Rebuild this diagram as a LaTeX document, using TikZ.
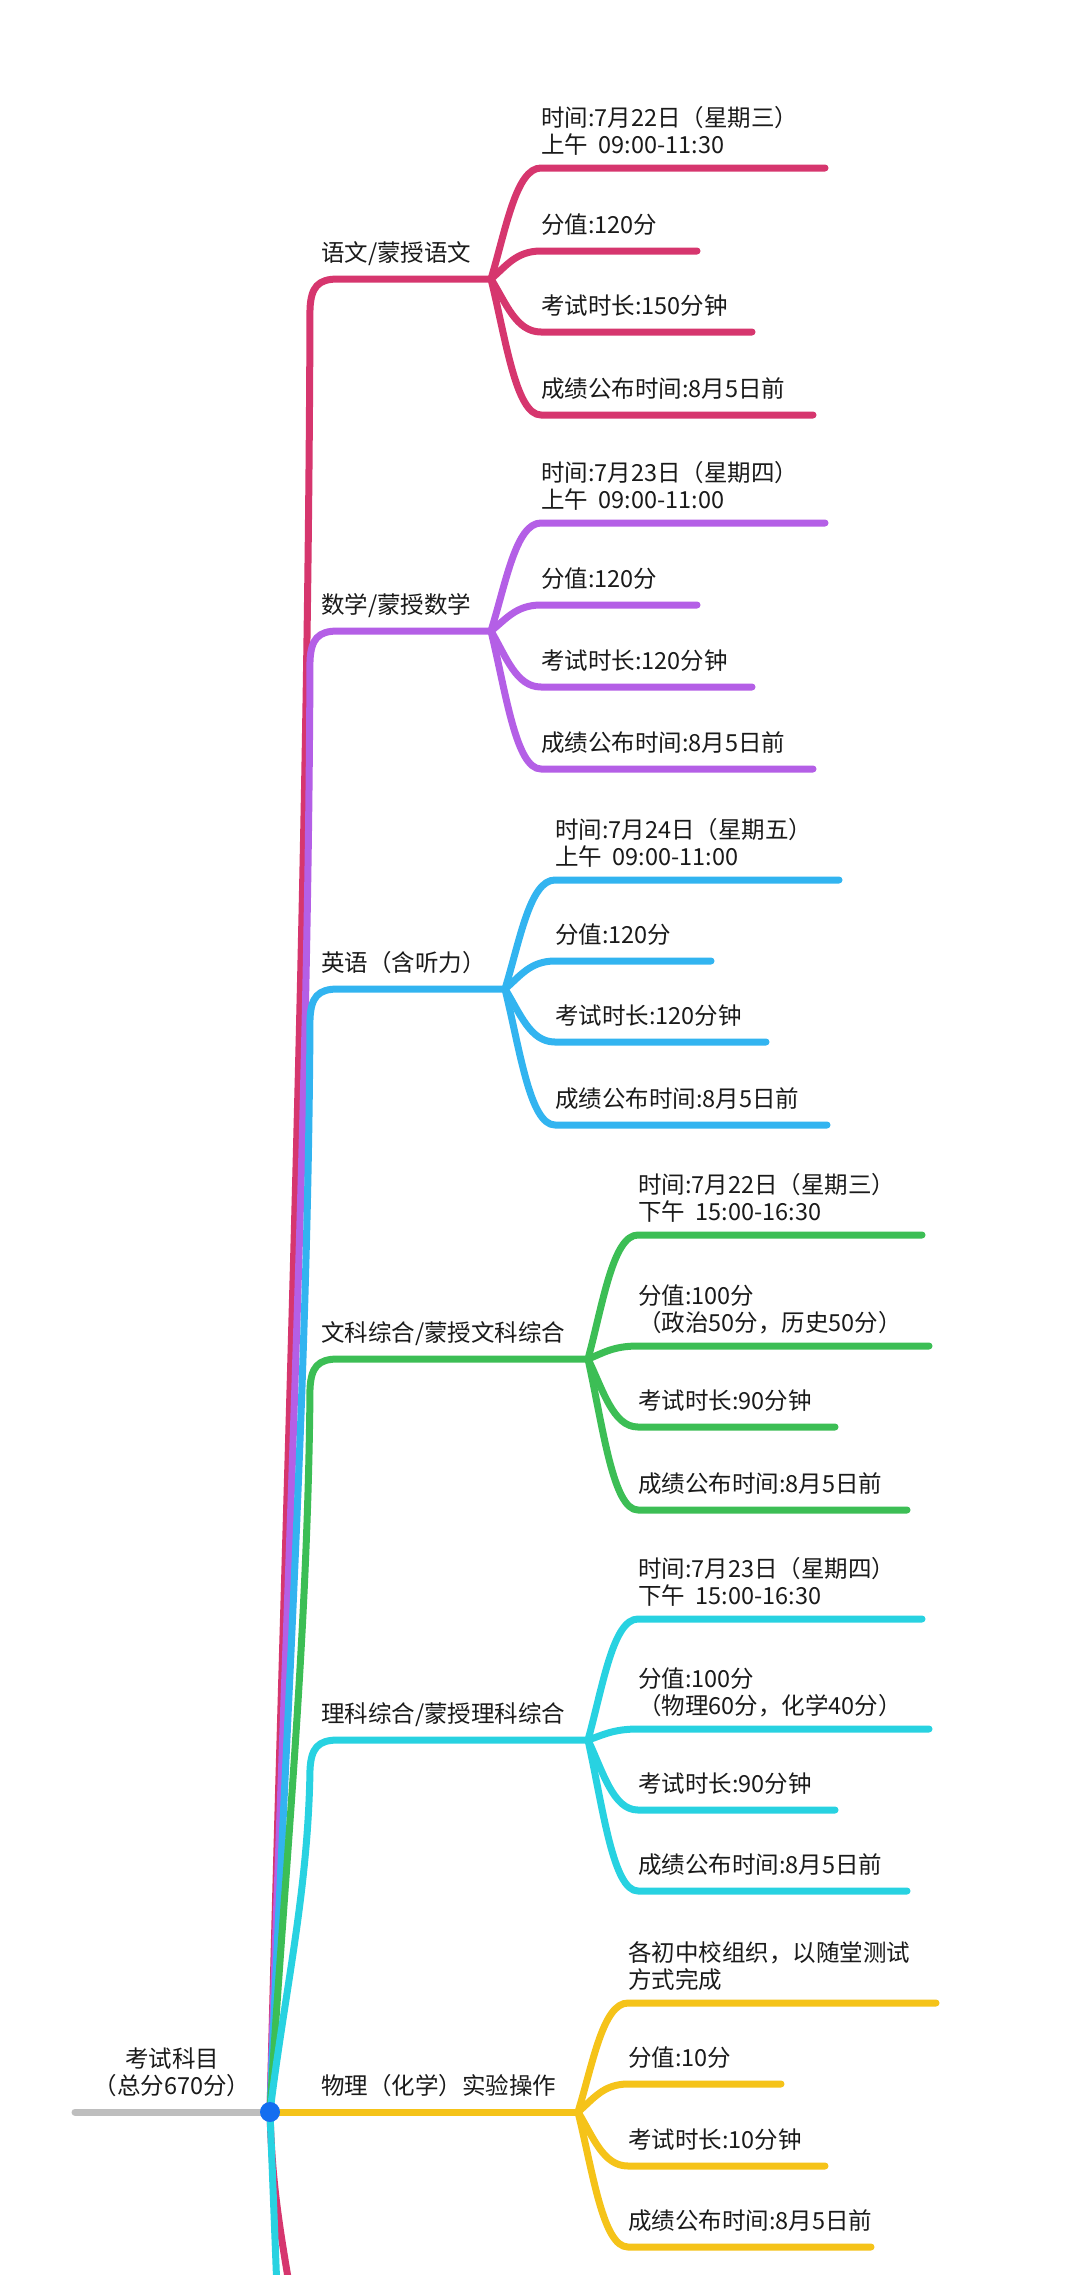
\documentclass[tikz,border=0pt]{standalone}
\usepackage{fontspec}
\setmainfont{Noto Sans CJK SC}
\usetikzlibrary{calc}
\definecolor{cYW}{HTML}{D6366E}
\definecolor{cSX}{HTML}{B45FE6}
\definecolor{cYY}{HTML}{32B4F0}
\definecolor{cWK}{HTML}{3CBE55}
\definecolor{cLK}{HTML}{28D2E1}
\definecolor{cWL}{HTML}{F5C319}
\definecolor{cGR}{HTML}{BEBEBE}
\definecolor{cDOT}{HTML}{146EF0}
\definecolor{txt}{HTML}{1A1A1A}
\tikzset{
  leaf/.style={inner sep=0pt, align=left, text depth=4pt, font=\fontsize{23.5}{27.5}\selectfont, text=txt},
  br/.style={line width=7pt, line cap=round, line join=round},
}
% child: #1 colour, #2 name, #3 fork name, #4 fx, #5 fy, #6 cy, #7 end x, #8 text, #9 extra shift
\newcommand\mmkid[9]{%
  \coordinate (#2-s) at ({#4+50},#6);
  \coordinate (#2-e) at (#7,#6);
  \node[leaf, anchor=south west] (#2) at ({#4+50},{#6-13+#9}) {#8};
  \draw[br,#1] (#3) .. controls ({#4+15},{#5+0.45*(#6-#5)}) and ({#4+25},#6) .. (#2-s) -- (#2-e);
}
% level one: #1 colour, #2 name, #3 Y, #4 fork x, #5 text
\newcommand\mmlvl[5]{%
  \coordinate (#2-k) at (310,{#3+30});
  \coordinate (#2-f) at (#4,#3);
  \node[leaf, anchor=south west] (#2) at (321,{#3-13}) {#5};
  \draw[br,#1] (root) .. controls (285,{2112-0.33*(2112-#3)}) and (308,{#3+30+0.33*(2112-#3)}) .. (#2-k)
     .. controls (311,{#3+8}) and (318,#3) .. (338,#3) -- (#2-f);
}
\begin{document}
\begin{tikzpicture}[x=1pt,y=-1pt]
\useasboundingbox (0,0) rectangle (1080,2275);
\fill[white] (0,0) rectangle (1080,2275);
\coordinate (root) at (270,2112);
\coordinate (rootL) at (75,2112);
\coordinate (downA) at (290,2290);
\coordinate (downB) at (277,2290);

% lines going down to branches outside the picture
\draw[br,cYW] (root) .. controls (272,2190) and (282,2240) .. (downA);
\draw[br,cLK] (root) -- (downB);

% level one branches
\mmlvl{cYW}{yw}{279}{491}{语文/蒙授语文}
\mmlvl{cSX}{sx}{631}{491}{数学/蒙授数学}
\mmlvl{cYY}{yy}{989}{505}{英语（含听力）}
\mmlvl{cWK}{wk}{1359}{588}{文科综合/蒙授文科综合}
\mmlvl{cLK}{lk}{1740}{588}{理科综合/蒙授理科综合}

\coordinate (wl-f) at (578,2112);
\node[leaf, anchor=south west] (wl) at (321,{2112-13}) {物理（化学）实验操作};
\draw[br,cWL] (root) -- (wl-f);

% root
\node[leaf, align=center, anchor=south] (rt) at (172,{2112-13}) {考试科目\\（总分670分）};
\draw[br,cGR] (rootL) -- (root);

% children
\mmkid{cYW}{yw1}{yw-f}{491}{279}{168}{825}{时间:7月22日（星期三）\\上午\ \ 09:00-11:30}{3}
\mmkid{cYW}{yw2}{yw-f}{491}{279}{251}{697}{分值:120分}{0}
\mmkid{cYW}{yw3}{yw-f}{491}{279}{332}{752}{考试时长:150分钟}{0}
\mmkid{cYW}{yw4}{yw-f}{491}{279}{415}{813}{成绩公布时间:8月5日前}{0}

\mmkid{cSX}{sx1}{sx-f}{491}{631}{523}{825}{时间:7月23日（星期四）\\上午\ \ 09:00-11:00}{3}
\mmkid{cSX}{sx2}{sx-f}{491}{631}{605}{697}{分值:120分}{0}
\mmkid{cSX}{sx3}{sx-f}{491}{631}{687}{752}{考试时长:120分钟}{0}
\mmkid{cSX}{sx4}{sx-f}{491}{631}{769}{813}{成绩公布时间:8月5日前}{0}

\mmkid{cYY}{yy1}{yy-f}{505}{989}{880}{839}{时间:7月24日（星期五）\\上午\ \ 09:00-11:00}{3}
\mmkid{cYY}{yy2}{yy-f}{505}{989}{961}{711}{分值:120分}{0}
\mmkid{cYY}{yy3}{yy-f}{505}{989}{1042}{766}{考试时长:120分钟}{0}
\mmkid{cYY}{yy4}{yy-f}{505}{989}{1125}{827}{成绩公布时间:8月5日前}{0}

\mmkid{cWK}{wk1}{wk-f}{588}{1359}{1235}{922}{时间:7月22日（星期三）\\下午\ \ 15:00-16:30}{3}
\mmkid{cWK}{wk2}{wk-f}{588}{1359}{1346}{929}{分值:100分\\（政治50分，历史50分）}{3}
\mmkid{cWK}{wk3}{wk-f}{588}{1359}{1427}{835}{考试时长:90分钟}{0}
\mmkid{cWK}{wk4}{wk-f}{588}{1359}{1510}{907}{成绩公布时间:8月5日前}{0}

\mmkid{cLK}{lk1}{lk-f}{588}{1740}{1619}{922}{时间:7月23日（星期四）\\下午\ \ 15:00-16:30}{3}
\mmkid{cLK}{lk2}{lk-f}{588}{1740}{1729}{929}{分值:100分\\（物理60分，化学40分）}{3}
\mmkid{cLK}{lk3}{lk-f}{588}{1740}{1810}{835}{考试时长:90分钟}{0}
\mmkid{cLK}{lk4}{lk-f}{588}{1740}{1891}{907}{成绩公布时间:8月5日前}{0}

\mmkid{cWL}{wl1}{wl-f}{578}{2112}{2003}{936}{各初中校组织，以随堂测试\\方式完成}{3}
\mmkid{cWL}{wl2}{wl-f}{578}{2112}{2084}{781}{分值:10分}{0}
\mmkid{cWL}{wl3}{wl-f}{578}{2112}{2166}{825}{考试时长:10分钟}{0}
\mmkid{cWL}{wl4}{wl-f}{578}{2112}{2247}{871}{成绩公布时间:8月5日前}{0}

% root dot
\fill[cDOT] (root) circle (10);
\end{tikzpicture}
\end{document}
